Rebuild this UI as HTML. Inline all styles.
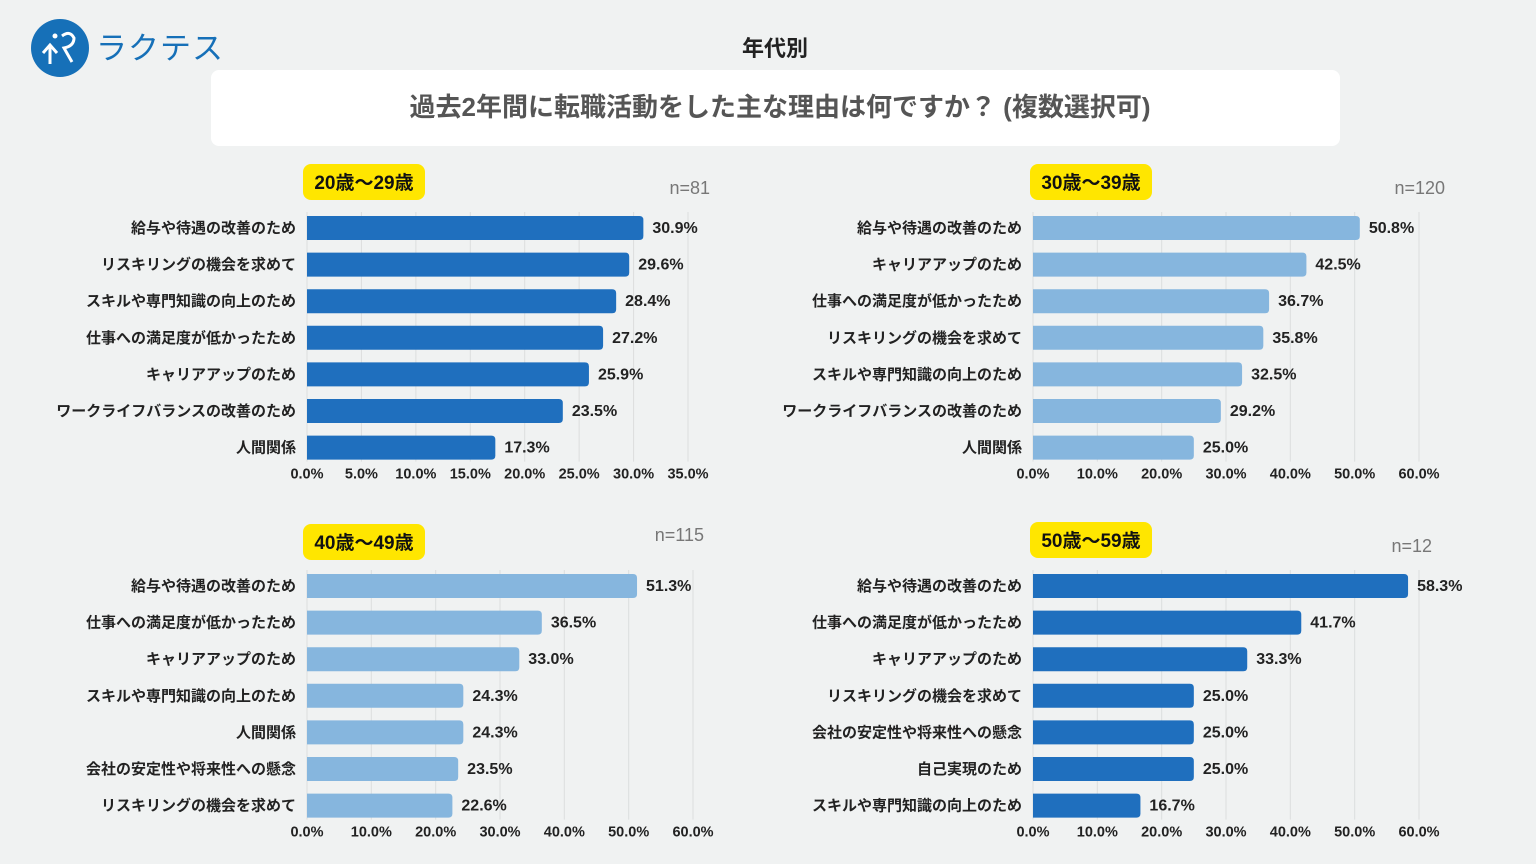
<!DOCTYPE html>
<html><head><meta charset="utf-8"><style>
body{margin:0;width:1536px;height:864px;background:#f0f2f2;overflow:hidden;font-family:"Liberation Sans","Noto Sans CJK JP",sans-serif}
svg{position:absolute;left:0;top:0}
</style></head><body>
<svg width="1536" height="864" id="s">
<g>
<circle cx="60" cy="48" r="29" fill="#1670b8"/>
<path d="M50 64 V46 M43 53 L50 45 L57 53" stroke="#fff" stroke-width="3" fill="none"/>
<circle cx="55" cy="36" r="2.5" fill="#fff"/>
<path d="M62 36 Q70 30 74 38 Q74 46 64 48 L72 62" stroke="#fff" stroke-width="3" fill="none"/>
<text x="96" y="59" font-size="31" fill="#1670b8" letter-spacing="1">ラクテス</text>
</g>
<text x="775" y="56" font-size="22" font-weight="bold" text-anchor="middle" fill="#222">年代別</text>
<rect x="211" y="70" width="1129" height="76" rx="8" fill="#fff"/>
<text x="780" y="116" font-size="26" font-weight="bold" text-anchor="middle" fill="#555">過去2年間に転職活動をした主な理由は何ですか？ (複数選択可)</text>
<g id="panels"></g>
</svg>
<script>
const p1Cats=["給与や待遇の改善のため","リスキリングの機会を求めて","スキルや専門知識の向上のため","仕事への満足度が低かったため","キャリアアップのため","ワークライフバランスの改善のため","人間関係"];
const p1Vals=[30.9,29.6,28.4,27.2,25.9,23.5,17.3];
const p1Ticks=[0,5,10,15,20,25,30,35];
const p2Cats=["給与や待遇の改善のため","キャリアアップのため","仕事への満足度が低かったため","リスキリングの機会を求めて","スキルや専門知識の向上のため","ワークライフバランスの改善のため","人間関係"];
const p2Vals=[50.8,42.5,36.7,35.8,32.5,29.2,25.0];
const p3Cats=["給与や待遇の改善のため","仕事への満足度が低かったため","キャリアアップのため","スキルや専門知識の向上のため","人間関係","会社の安定性や将来性への懸念","リスキリングの機会を求めて"];
const p3Vals=[51.3,36.5,33.0,24.3,24.3,23.5,22.6];
const p4Cats=["給与や待遇の改善のため","仕事への満足度が低かったため","キャリアアップのため","リスキリングの機会を求めて","会社の安定性や将来性への懸念","自己実現のため","スキルや専門知識の向上のため"];
const p4Vals=[58.3,41.7,33.3,25.0,25.0,25.0,16.7];
const p60Ticks=[0,10,20,30,40,50,60];
const titles=["20歳〜29歳","30歳〜39歳","40歳〜49歳","50歳〜59歳"];
const ns=["n=81","n=120","n=115","n=12"];
const NS="http://www.w3.org/2000/svg";
const root=document.getElementById('panels');
function el(t,a,txt){const e=document.createElementNS(NS,t);for(const k in a)e.setAttribute(k,a[k]);if(txt!==undefined)e.textContent=txt;root.appendChild(e);return e;}
const cfg=[
 {cats:p1Cats,vals:p1Vals,ticks:p1Ticks,x0:307,x1:688,y0:228,col:"#1f6fbe",bx:303,by:164,nx:710,ny:194},
 {cats:p2Cats,vals:p2Vals,ticks:p60Ticks,x0:1033,x1:1419,y0:228,col:"#86b6de",bx:1030,by:164,nx:1445,ny:194},
 {cats:p3Cats,vals:p3Vals,ticks:p60Ticks,x0:307,x1:693,y0:586,col:"#86b6de",bx:303,by:524,nx:704,ny:541},
 {cats:p4Cats,vals:p4Vals,ticks:p60Ticks,x0:1033,x1:1419,y0:586,col:"#1f6fbe",bx:1030,by:522,nx:1432,ny:552}];
cfg.forEach((c,i)=>{
 const max=c.ticks[c.ticks.length-1];
 const xs=v=>c.x0+(c.x1-c.x0)*v/max;
 const step=36.6;
 const yAxis=c.y0+step*6+26;
 c.ticks.forEach(t=>{
  const g=el('line',{x1:xs(t),x2:xs(t),y1:c.y0-16,y2:c.y0+step*6+14,stroke:"#dcdede","stroke-width":1});
  
  
  const tl=el('text',{x:xs(t),y:yAxis+5,"font-size":14.5,"font-weight":"bold","text-anchor":"middle",fill:"#222"},t.toFixed(1)+"%");
  
  
 });
 const bd=el('rect',{x:c.bx,y:c.by,width:122,height:36,rx:8,fill:"#ffe600"});
 
 
 const bt=el('text',{x:c.bx+61,y:c.by+25,"font-size":19,"font-weight":"bold","text-anchor":"middle",fill:"#111"},titles[i]);
 
 
 const nt=el('text',{x:c.nx,y:c.ny,"font-size":18,"text-anchor":"end",fill:"#777"},ns[i]);
 
 
 c.vals.forEach((v,j)=>{
  const y=c.y0+step*j;
  const w=xs(v)-c.x0;
  const b=el('path',{d:`M${c.x0} ${y-12}H${c.x0+w-4}Q${c.x0+w} ${y-12} ${c.x0+w} ${y-8}V${y+8}Q${c.x0+w} ${y+12} ${c.x0+w-4} ${y+12}H${c.x0}Z`,fill:c.col});
  
  
  const vl=el('text',{x:xs(v)+9,y:y+5,"font-size":16,"font-weight":"bold",fill:"#222"},v.toFixed(1)+"%");
  
  
  const cl=el('text',{x:c.x0-11,y:y+5,"font-size":15,"font-weight":"bold","text-anchor":"end",fill:"#222"},c.cats[j]);
  
  
 });
});
</script>
</body></html>
